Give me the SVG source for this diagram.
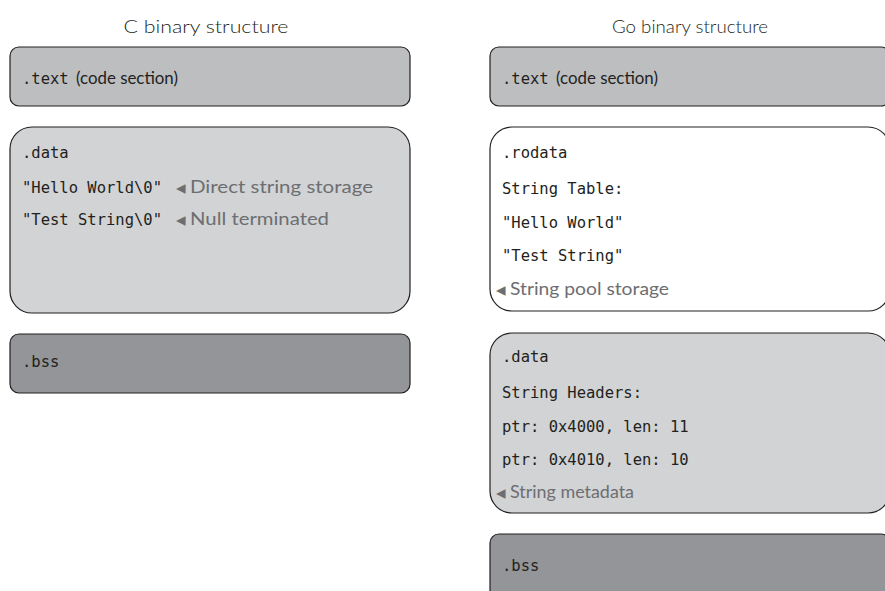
<svg xmlns="http://www.w3.org/2000/svg" width="885" height="591" viewBox="0 0 885 591">
<style>
.title{font-family:Lato,"Noto Sans",sans-serif;font-size:17px;font-weight:300;fill:#231f20;text-anchor:middle}
.mono{font-family:"DejaVu Sans Mono","Liberation Mono",monospace;font-size:15.5px;fill:#231f20}
.sans{font-family:Lato,"Noto Sans",sans-serif;font-size:18px;fill:#231f20}
.note{font-family:Lato,"Noto Sans",sans-serif;font-size:18px;fill:#6d6e71}
.tri{font-family:"DejaVu Sans",sans-serif;font-size:19px;fill:#6d6e71}
.box{stroke:#231f20;stroke-width:1.2}
.code{fill:#bcbec0}
.dat{fill:#d1d3d4}
.bss{fill:#939598}
.ro{fill:#ffffff}
</style>
<text class="title" x="206" y="33" textLength="165" lengthAdjust="spacingAndGlyphs">C binary structure</text>
<text class="title" x="690" y="33" textLength="156" lengthAdjust="spacingAndGlyphs">Go binary structure</text>
<g id="c-text">
<rect class="box code" x="10" y="47" width="400" height="59" rx="9"/>
<text x="22" y="84"><tspan class="mono">.text</tspan><tspan class="sans" x="76" textLength="102" lengthAdjust="spacingAndGlyphs">(code section)</tspan></text>
</g>
<g id="c-data">
<rect class="box dat" x="10" y="127" width="400" height="186" rx="22"/>
<text class="mono" x="22" y="158">.data</text>
<text class="mono" x="22" y="193">"Hello World\0"</text>
<text class="mono" x="22" y="225">"Test String\0"</text>
<text y="194"><tspan class="tri" x="176">◂</tspan><tspan class="note" x="190" y="193" textLength="183" lengthAdjust="spacingAndGlyphs">Direct string storage</tspan></text>
<text y="226"><tspan class="tri" x="176">◂</tspan><tspan class="note" x="190" y="225" textLength="139" lengthAdjust="spacingAndGlyphs">Null terminated</tspan></text>
</g>
<g id="c-bss">
<rect class="box bss" x="10" y="334" width="400" height="59" rx="9"/>
<text class="mono" x="22" y="367">.bss</text>
</g>
<g id="go-text">
<rect class="box code" x="490" y="47" width="400" height="59" rx="9"/>
<text x="502" y="84"><tspan class="mono">.text</tspan><tspan class="sans" x="556" textLength="102" lengthAdjust="spacingAndGlyphs">(code section)</tspan></text>
</g>
<g id="go-rodata">
<rect class="box ro" x="490" y="127" width="400" height="184" rx="22"/>
<text class="mono" x="502" y="158">.rodata</text>
<text class="mono" x="502" y="194">String Table:</text>
<text class="mono" x="502" y="228">"Hello World"</text>
<text class="mono" x="502" y="261">"Test String"</text>
<text y="296"><tspan class="tri" x="496">◂</tspan><tspan class="note" x="510" y="295" textLength="159" lengthAdjust="spacingAndGlyphs">String pool storage</tspan></text>
</g>
<g id="go-data">
<rect class="box dat" x="490" y="333" width="400" height="180" rx="22"/>
<text class="mono" x="502" y="362">.data</text>
<text class="mono" x="502" y="398">String Headers:</text>
<text class="mono" x="502" y="432">ptr: 0x4000, len: 11</text>
<text class="mono" x="502" y="465">ptr: 0x4010, len: 10</text>
<text y="499"><tspan class="tri" x="496">◂</tspan><tspan class="note" x="510" y="498" textLength="124" lengthAdjust="spacingAndGlyphs">String metadata</tspan></text>
</g>
<g id="go-bss">
<rect class="box bss" x="490" y="534" width="400" height="80" rx="9"/>
<text class="mono" x="502" y="571">.bss</text>
</g>
<g id="connectors"></g>
</svg>
